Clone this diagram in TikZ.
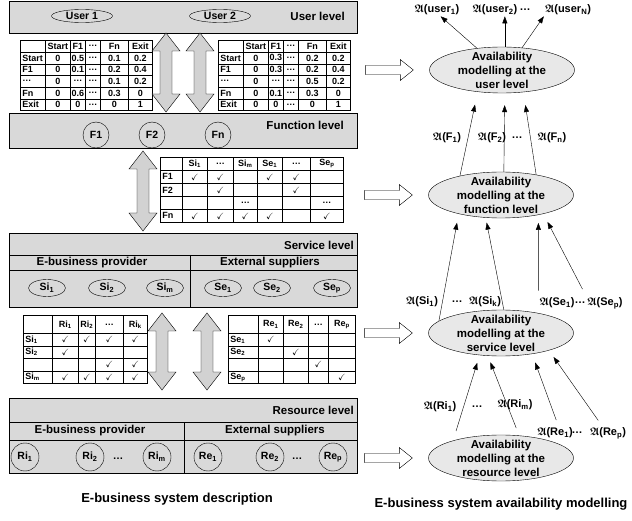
\documentclass[tikz,border=0pt]{standalone}
\usepackage{amsmath,amssymb}
\usepackage{fontspec}
\setmainfont{Liberation Sans}
\usetikzlibrary{matrix,shapes.geometric,arrows.meta}

\newcommand\lvlfont{\fontsize{11.5}{13}\selectfont\bfseries}
\newcommand\tabfont{\fontsize{9}{10}\selectfont\bfseries}
\newcommand\elfont{\fontsize{10.5}{12}\selectfont\bfseries}
\newcommand\modfont{\fontsize{11.5}{14}\selectfont\bfseries}
\newcommand\capfont{\fontsize{13}{16}\selectfont\bfseries}
\newcommand\avail[1]{$\boldsymbol{\mathfrak{A}}$(#1)}
\newcommand\ck{$\checkmark$}

% x, top, bottom of a vertical two-headed block arrow
\newcommand\bothways[3]{%
  \draw[updown] (#1,#2) -- ++(14,18) -- ++(-8,0) -- (#1+6,#3-18) -- ++(8,0) -- (#1,#3)
    -- ++(-14,-18) -- ++(8,0) -- (#1-6,#2+18) -- ++(-8,0) -- cycle;}
% hollow block arrow ending at the given coordinate
\newcommand\toright[1]{%
  \draw[hollow] (#1) -- ++(-13,-10.5) -- ++(0,6) -- ++(-35,0) -- ++(0,9) -- ++(35,0) -- ++(0,6) -- cycle;}

\tikzset{
  levelbox/.style={draw, fill=gray!30},
  lvltext/.style={font=\lvlfont, inner sep=0pt},
  updown/.style={draw, fill=gray!35},
  hollow/.style={draw, fill=white},
  tabgrid/.style={matrix of nodes, nodes in empty cells, anchor=north west, inner sep=0pt,
    column sep=-0.4pt, row sep=-0.4pt,
    nodes={draw, fill=white, inner sep=0pt, anchor=center, font=\tabfont}},
  colw/.style 2 args={column #1/.style={nodes={minimum width=#2}}},
  labcol/.style={column 1/.style={nodes={text width=#1, align=left, inner xsep=2pt}}},
  rh/.style={nodes={minimum height=#1}},
  usr/.style={ellipse, draw, inner sep=0pt, minimum width=61pt, minimum height=13pt, font=\elfont},
  svc/.style={ellipse, draw, inner sep=0pt, minimum width=37pt, minimum height=17pt, font=\elfont},
  fun/.style={circle, draw, inner sep=0pt, minimum size=26pt, font=\elfont},
  res/.style={circle, draw, inner sep=0pt, minimum size=28pt, font=\elfont},
  model/.style={ellipse, draw, fill=gray!18, minimum width=145pt, minimum height=46pt,
    inner xsep=0pt, inner ysep=-6pt, align=center, font=\modfont},
  availlbl/.style={font=\fontsize{11}{12}\selectfont\bfseries, inner sep=1pt},
  flow/.style={-{Triangle[length=7pt,width=5pt]}}
}

\begin{document}
\begin{tikzpicture}[x=1pt, y=-1pt]
  \useasboundingbox (0,0) rectangle (632,521);

  % user level
  \draw[levelbox] (9,1) rectangle (357,33);
  \node[usr] (user1) at (82,16) {User 1};
  \node[usr] (user2) at (220,16) {User 2};
  \node[lvltext, anchor=east] at (345,16) {User level};

  % usage profiles
  \matrix[tabgrid, rh=11.67pt, labcol=21pt, colw={2}{25pt}, colw={3}{15pt}, colw={4}{15pt},
    colw={5}{28pt}, colw={6}{24pt}] (profA) at (20,40) {
           & Start & F1    & \dots & Fn  & Exit \\
    Start  & 0     & 0.5   & \dots & 0.1 & 0.2  \\
    F1     & 0     & 0.1   & \dots & 0.2 & 0.4  \\
    \dots  & 0     & \dots & \dots & 0.1 & 0.2  \\
    Fn     & 0     & 0.6   & \dots & 0.3 & 0    \\
    Exit   & 0     & 0     & \dots & 0   & 1    \\
  };
  \matrix[tabgrid, rh=11.67pt, labcol=21pt, colw={2}{25pt}, colw={3}{15pt}, colw={4}{15pt},
    colw={5}{28pt}, colw={6}{24pt}] (profB) at (218,40) {
           & Start & F1    & \dots & Fn  & Exit \\
    Start  & 0     & 0.3   & \dots & 0.2 & 0.2  \\
    F1     & 0     & 0.3   & \dots & 0.2 & 0.4  \\
    \dots  & 0     & \dots & \dots & 0.5 & 0.2  \\
    Fn     & 0     & 0.1   & \dots & 0.3 & 0    \\
    Exit   & 0     & 0     & \dots & 0   & 1    \\
  };
  \bothways{166}{33}{112}
  \bothways{200}{33}{112}

  % function level
  \draw[levelbox] (9,113) rectangle (357,148);
  \node[fun] (f1) at (96,135) {F1};
  \node[fun] (f2) at (152,135) {F2};
  \node[fun] (fn) at (218,135) {Fn};
  \node[lvltext, anchor=east] at (344,125) {Function level};

  \matrix[tabgrid, rh=13pt, labcol=18pt, colw={2}{25pt}, colw={3}{26pt}, colw={4}{24pt},
    colw={5}{25pt}, colw={6}{28pt}, colw={7}{33pt}] (funsvc) at (160,157) {
       & Si\textsubscript{1} & \dots & Si\textsubscript{m} & Se\textsubscript{1} & \dots & Se\textsubscript{p} \\
    F1 & \ck & \ck &       & \ck & \ck &       \\
    F2 &     & \ck &       &     & \ck &       \\
       &     &     & \dots &     &     & \dots \\
    Fn & \ck & \ck & \ck   & \ck &     & \ck   \\
  };
  \bothways{143}{151}{231}

  % service level
  \draw[levelbox] (9,233) rectangle (357,307);
  \draw (9,255) -- (357,255) (9,270) -- (357,270) (190,255) -- (190,307);
  \node[lvltext, anchor=east] at (354,245) {Service level};
  \node[lvltext] at (92,263) {E-business provider};
  \node[lvltext] at (270,263) {External suppliers};
  \node[svc] (si1) at (47,288) {Si\textsubscript{1}};
  \node[svc] (si2) at (107,288) {Si\textsubscript{2}};
  \node[svc] (sim) at (165,288) {Si\textsubscript{m}};
  \node[svc] (se1) at (223,288) {Se\textsubscript{1}};
  \node[svc] (se2) at (272,288) {Se\textsubscript{2}};
  \node[svc] (sep) at (332,288) {Se\textsubscript{p}};

  \matrix[tabgrid, rh=12.5pt, row 1/.style={nodes={minimum height=18pt}}, labcol=25pt,
    colw={2}{26pt}, colw={3}{17pt}, colw={4}{28pt}, colw={5}{24pt}] (svcresA) at (23,315) {
                        & Ri\textsubscript{1} & Ri\textsubscript{2} & \dots & Ri\textsubscript{k} \\
    Si\textsubscript{1} & \ck & \ck & \ck & \ck \\
    Si\textsubscript{2} & \ck &     &     &     \\
                        &     &     & \ck & \ck \\
    Si\textsubscript{m} & \ck & \ck & \ck & \ck \\
  };
  \matrix[tabgrid, rh=12.5pt, row 1/.style={nodes={minimum height=18pt}}, labcol=26pt,
    colw={2}{25pt}, colw={3}{25pt}, colw={4}{20pt}, colw={5}{27pt}] (svcresB) at (228,315) {
                        & Re\textsubscript{1} & Re\textsubscript{2} & \dots & Re\textsubscript{p} \\
    Se\textsubscript{1} & \ck &     &     &     \\
    Se\textsubscript{2} &     & \ck &     &     \\
                        &     &     & \ck &     \\
    Se\textsubscript{p} &     &     &     & \ck \\
  };
  \bothways{162}{313}{390}
  \bothways{207}{313}{390}

  % resource level
  \draw[levelbox] (9,398) rectangle (357,473);
  \draw (9,422) -- (357,422) (9,440) -- (357,440) (184,422) -- (184,473);
  \node[lvltext, anchor=east] at (354,410) {Resource level};
  \node[lvltext] at (90,431) {E-business provider};
  \node[lvltext] at (275,431) {External suppliers};
  \node[res] (ri1) at (25,457) {Ri\textsubscript{1}};
  \node[res] (ri2) at (90,457) {Ri\textsubscript{2}};
  \node[font=\elfont] at (118,459) {\dots};
  \node[res] (rim) at (157,457) {Ri\textsubscript{m}};
  \node[res] (re1) at (208,457) {Re\textsubscript{1}};
  \node[res] (re2) at (270,457) {Re\textsubscript{2}};
  \node[font=\elfont] at (297,459) {\dots};
  \node[res] (rep) at (333,457) {Re\textsubscript{p}};

  \node[font=\capfont] at (177,499) {E-business system description};

  % availability models
  \node[model] (modU) at (502,70) {Availability\\modelling at the\\user level};
  \node[model] (modF) at (501,195) {Availability\\modelling at the\\function level};
  \node[model] (modS) at (501,333) {Availability\\modelling at the\\service level};
  \node[model] (modR) at (501,458) {Availability\\modelling at the\\resource level};
  \foreach \m in {U,F,S,R} {
    \path (mod\m.west) ++(-16,0) coordinate (in\m);
    \toright{in\m}
  }

  \node[availlbl] (aU1) at (437,10) {\avail{user\textsubscript{1}}};
  \node[availlbl] (aU2) at (495,10) {\avail{user\textsubscript{2}}};
  \node[availlbl] at (525,10) {\dots};
  \node[availlbl] (aUN) at (568,10) {\avail{user\textsubscript{N}}};
  \draw[flow] (modU.139) -- (aU1.-60);
  \draw[flow] (modU.83) -- (modU.83 |- aU2.south);
  \draw[flow] (modU.48) -- (aUN.south west);

  \node[availlbl] (aF1) at (447,138) {\avail{F\textsubscript{1}}};
  \node[availlbl] (aF2) at (492,138) {\avail{F\textsubscript{2}}};
  \node[availlbl] at (517,138) {\dots};
  \node[availlbl] (aFn) at (552,138) {\avail{F\textsubscript{n}}};
  \draw[flow, shorten >=13pt] (modF.155) -- (modU.222);
  \draw[flow, shorten >=12pt] (modF.83) -- (modU.-83);
  \draw[flow, shorten >=13pt] (modF.30) -- (modU.-46);

  \node[availlbl] (aSi1) at (422,302) {\avail{Si\textsubscript{1}}};
  \node[availlbl] at (457,302) {\dots};
  \node[availlbl] (aSik) at (485,302) {\avail{Si\textsubscript{k}}};
  \node[availlbl] (aSe1) at (557,303) {\avail{Se\textsubscript{1}}};
  \node[availlbl] at (580,303) {\dots};
  \node[availlbl] (aSep) at (605,303) {\avail{Se\textsubscript{p}}};
  \draw[flow, shorten >=9pt] (modS.169) -- (modF.204);
  \draw[flow, shorten >=5pt] (modS.83) -- (modF.236);
  \draw[flow, shorten <=6pt, shorten >=8pt] (aSe1.north west) -- (modF.-28);
  \draw[flow, shorten <=8pt, shorten >=9pt] (aSep.north west) -- (modF.-24);

  \node[availlbl] (aRi1) at (440,407) {\avail{Ri\textsubscript{1}}};
  \node[availlbl] at (477,407) {\dots};
  \node[availlbl] (aRim) at (515,405) {\avail{Ri\textsubscript{m}}};
  \node[availlbl] (aRe1) at (555,433) {\avail{Re\textsubscript{1}}};
  \node[availlbl] at (577,433) {\dots};
  \node[availlbl] (aRep) at (608,433) {\avail{Re\textsubscript{p}}};
  \draw[flow, shorten <=10pt, shorten >=8pt] (modR.160) -- (modS.226);
  \draw[flow, shorten <=8pt, shorten >=7pt] (modR.51) -- (modS.240);
  \draw[flow, shorten <=7pt, shorten >=9pt] (aRe1.60) -- (modS.-34);
  \draw[flow, shorten <=7pt, shorten >=8pt] (aRep.130) -- (modS.-20);

  \node[font=\capfont] at (501,504) {E-business system availability modelling};
\end{tikzpicture}
\end{document}
